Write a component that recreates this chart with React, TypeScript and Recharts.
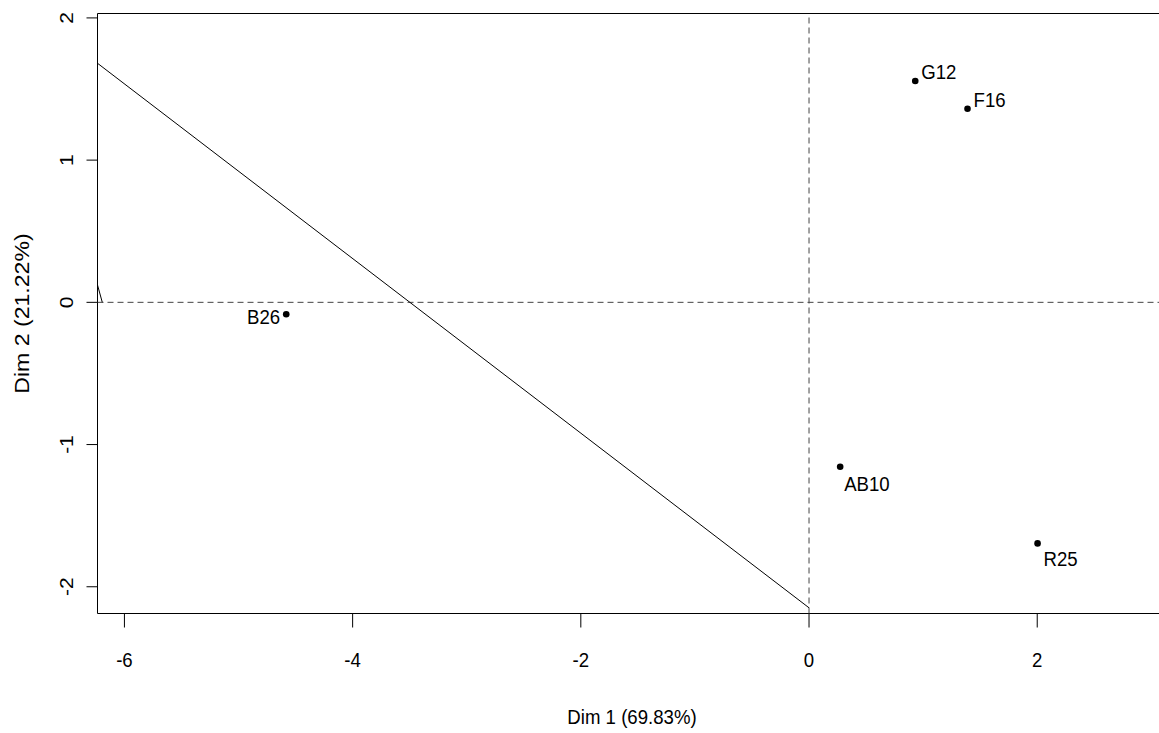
import React from "react";
import {
  ScatterChart,
  Scatter,
  XAxis,
  YAxis,
  ReferenceLine,
  ReferenceArea,
  Label,
} from "recharts";

// Individuals on the first two principal dimensions
const names = ["G12", "F16", "B26", "AB10", "R25"];
const dim1 = [0.931, 1.389, -4.582, 0.273, 2.003];
const dim2 = [1.556, 1.361, -0.084, -1.156, -1.695];

// Axis ticks and plotting window
const xTicks = [-6, -4, -2, 0, 2];
const yTicks = [-2, -1, 0, 1, 2];
const xDomain: [number, number] = [-6.236, 3.133];
const yDomain: [number, number] = [-2.188, 2.031];

// Straight segments drawn in the plot region
const longSegment = [
  { x: -6.236, y: 1.681 },
  { x: 0, y: -2.148 },
];
const shortSegment = [
  { x: -6.236, y: 0.122 },
  { x: -6.194, y: 0 },
];

const points = names.map((name, i) => ({ name, x: dim1[i], y: dim2[i] }));

// Where each label sits relative to its point
const labelPlacement: Record<string, { dx: number; dy: number; anchor: "start" | "end" }> = {
  G12: { dx: 6, dy: -2, anchor: "start" },
  F16: { dx: 6, dy: -2, anchor: "start" },
  AB10: { dx: 4, dy: 24, anchor: "start" },
  R25: { dx: 6, dy: 23, anchor: "start" },
  B26: { dx: -6, dy: 10, anchor: "end" },
};

const FONT = "'Liberation Sans', Arial, Helvetica, sans-serif";
const FS = 21;
const SX = 0.887;

const XTick = (props: any) => {
  const { x, y, payload } = props;
  return (
    <text
      transform={`translate(${x},${y + 39.5}) scale(${SX},1)`}
      textAnchor="middle"
      fontFamily={FONT}
      fontSize={FS}
      fill="#000"
    >
      {payload.value}
    </text>
  );
};

const YTick = (props: any) => {
  const { x, y, payload } = props;
  return (
    <text
      transform={`translate(${x - 14},${y}) rotate(-90) scale(1,${SX})`}
      textAnchor="middle"
      fontFamily={FONT}
      fontSize={FS}
      fill="#000"
    >
      {payload.value}
    </text>
  );
};

const PointShape = (props: any) => {
  const { cx, cy, payload } = props;
  const p = labelPlacement[payload.name];
  return (
    <g>
      <circle cx={cx} cy={cy} r={3.3} fill="#000" />
      <text
        transform={`translate(${cx + p.dx},${cy + p.dy}) scale(${SX},1)`}
        textAnchor={p.anchor}
        fontFamily={FONT}
        fontSize={FS}
        fill="#000"
      >
        {payload.name}
      </text>
    </g>
  );
};

const XTitle = (props: any) => {
  const { viewBox } = props;
  const cx = viewBox.x + viewBox.width / 2;
  return (
    <text
      transform={`translate(${cx},${viewBox.y + 110}) scale(${SX},1)`}
      textAnchor="middle"
      fontFamily={FONT}
      fontSize={FS}
      fill="#000"
    >
      Dim 1 (69.83%)
    </text>
  );
};

const YTitle = (props: any) => {
  const { viewBox } = props;
  const cy = viewBox.y + viewBox.height / 2;
  return (
    <text
      transform={`translate(29,${cy}) rotate(-90) scale(1.1,0.93)`}
      textAnchor="middle"
      fontFamily={FONT}
      fontSize={FS}
      fill="#000"
    >
      Dim 2 (21.22%)
    </text>
  );
};

export default function App() {
  return (
    <div
      style={{
        position: "fixed",
        left: 0,
        top: 0,
        width: 1159,
        height: 733,
        overflow: "hidden",
        background: "#fff",
      }}
    >
      <ScatterChart
        width={1180}
        height={733}
        margin={{ top: 13.5, right: 13.5, bottom: 0, left: 0 }}
      >
        <XAxis
          type="number"
          dataKey="x"
          domain={xDomain}
          ticks={xTicks}
          interval={0}
          allowDataOverflow
          axisLine={false}
          tickLine={{ stroke: "#000" }}
          tickSize={14}
          tickMargin={0}
          height={119.5}
          tick={<XTick />}
        >
          <Label content={<XTitle />} />
        </XAxis>
        <YAxis
          type="number"
          dataKey="y"
          domain={yDomain}
          ticks={yTicks}
          interval={0}
          allowDataOverflow
          axisLine={false}
          tickLine={{ stroke: "#000" }}
          tickSize={11}
          tickMargin={0}
          width={97.5}
          tick={<YTick />}
        >
          <Label content={<YTitle />} />
        </YAxis>
        <ReferenceArea
          x1={xDomain[0]}
          x2={xDomain[1]}
          y1={yDomain[0]}
          y2={yDomain[1]}
          fill="none"
          stroke="#000"
          strokeWidth={1}
          fillOpacity={0}
          ifOverflow="visible"
        />
        <ReferenceLine x={0} stroke="#444" strokeDasharray="6 4" />
        <ReferenceLine y={0} stroke="#444" strokeDasharray="6 4" />
        <ReferenceLine segment={longSegment} stroke="#000" strokeWidth={1} ifOverflow="visible" />
        <ReferenceLine segment={shortSegment} stroke="#000" strokeWidth={1} ifOverflow="visible" />
        <Scatter data={points} shape={<PointShape />} isAnimationActive={false} />
      </ScatterChart>
    </div>
  );
}
